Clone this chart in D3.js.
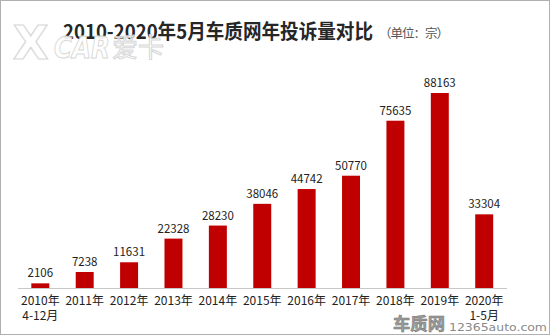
<!DOCTYPE html>
<html>
<head>
<meta charset="utf-8">
<script src="https://cdn.jsdelivr.net/npm/d3@7/dist/d3.min.js"></script>
<style>
html,body{margin:0;padding:0;background:#fff;}
svg{display:block;}
</style>
</head>
<body>
<svg id="chart" width="550" height="335"></svg>
<script>
const categories = [["2010年","4-12月"],["2011年"],["2012年"],["2013年"],["2014年"],["2015年"],["2016年"],["2017年"],["2018年"],["2019年"],["2020年","1-5月"]];
const values = [2106, 7238, 11631, 22328, 28230, 38046, 44742, 50770, 75635, 88163, 33304];
const titleText = "2010-2020年5月车质网年投诉量对比";
const unitText = "（单位：宗）";

const W = 550, H = 335;
const svg = d3.select("#chart");
const font = "'Noto Sans CJK SC','Microsoft YaHei',sans-serif";

svg.append("rect").attr("x",0.5).attr("y",0.5).attr("width",W-1).attr("height",H-1)
  .attr("fill","#fff").attr("stroke","#b0b0b0").attr("stroke-width",1);

const x = d3.scaleBand().domain(d3.range(categories.length)).range([18, 506.5]).paddingInner(0.595).paddingOuter(0.3);
const y = d3.scaleLinear().domain([0, 88163]).range([288, 93]);

// bars
svg.selectAll("rect.bar").data(values).join("rect").attr("class","bar")
  .attr("x",(d,i)=>x(i)).attr("width",x.bandwidth())
  .attr("y",d=>y(d)).attr("height",d=>y(0)-y(d))
  .attr("fill","#c00000");

// value labels
svg.selectAll("text.val").data(values).join("text").attr("class","val")
  .attr("x",(d,i)=>x(i)+x.bandwidth()/2).attr("y",d=>y(d)-6)
  .attr("text-anchor","middle").attr("font-family",font).attr("font-size",11.5)
  .attr("fill","#222").text(d=>d);

// axis
const axis = d3.axisBottom(x).tickSize(0).tickFormat("");
const g = svg.append("g").attr("transform",`translate(0,${y(0)})`).call(axis);
g.select(".domain").attr("stroke","#c8c8c8").attr("d","M18,0.5H507");
g.selectAll(".tick").each(function(d){
  const t = d3.select(this).append("text").attr("fill","#222").attr("font-family",font)
    .attr("font-size",12).attr("text-anchor","middle");
  categories[d].forEach((line,k)=>{
    t.append("tspan").attr("x",0).attr("y",17+k*14.5).text(line);
  });
});

// title
svg.append("text").attr("transform","translate(63,39) scale(1,1.08)").attr("font-family",font).attr("font-weight","bold")
  .attr("font-size",18.6).attr("fill","#262626").text(titleText);
svg.append("text").attr("x",379).attr("y",38).attr("font-family",font)
  .attr("font-size",12.5).attr("fill","#555")
  .attr("textLength",70).attr("lengthAdjust","spacing").text(unitText);

// watermark XCAR (on top of title)
const wm = svg.append("g").attr("opacity",0.92);
wm.append("text").attr("x",13).attr("y",59).attr("font-family","'DejaVu Sans',sans-serif")
  .attr("font-weight","bold").attr("font-size",46).attr("fill","#fff").attr("stroke","#d4d4d4").attr("stroke-width",1.2)
  .text("X");
wm.append("text").attr("x",54).attr("y",58).attr("font-family","'DejaVu Sans',sans-serif")
  .attr("font-weight","bold").attr("font-style","italic").attr("font-size",30).attr("fill","#fff")
  .attr("stroke","#d4d4d4").attr("stroke-width",1).attr("textLength",56).attr("lengthAdjust","spacingAndGlyphs").text("CAR");
wm.append("text").attr("x",112).attr("y",57).attr("font-family",font)
  .attr("font-size",26).attr("fill","#fff").attr("stroke","#d4d4d4").attr("stroke-width",1).text("爱卡");

// bottom-right watermark
svg.append("text").attr("x",393).attr("y",330).attr("font-family",font).attr("font-weight","bold")
  .attr("font-size",17).attr("fill","#9a9a9a").attr("stroke","#777").attr("stroke-width",0.5)
  .attr("textLength",52).attr("lengthAdjust","spacingAndGlyphs").text("车质网");
svg.append("text").attr("x",449).attr("y",331).attr("font-family","'DejaVu Sans',sans-serif")
  .attr("font-size",11).attr("fill","#8a8a8a").attr("textLength",98).attr("lengthAdjust","spacingAndGlyphs").text("12365auto.com");
</script>
</body>
</html>
